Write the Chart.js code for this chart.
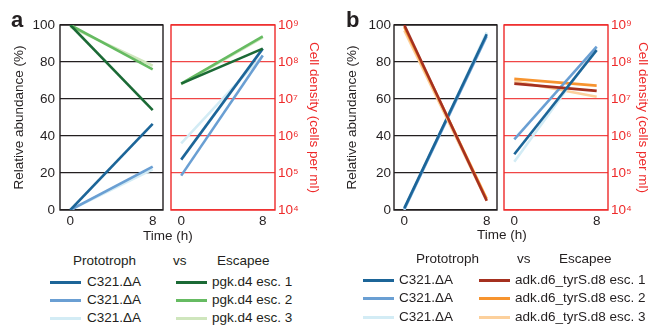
<!DOCTYPE html>
<html><head><meta charset="utf-8">
<script src="https://cdn.jsdelivr.net/npm/chart.js@4.4.0/dist/chart.umd.min.js"></script>
<style>
html,body{margin:0;padding:0;background:#fff;width:649px;height:326px;overflow:hidden;position:relative;font-family:"Liberation Sans",Arial,Helvetica,sans-serif;color:#231f20}
canvas{position:absolute;top:0}
.t{position:absolute;font-size:13.5px;line-height:14px;white-space:nowrap}
.ln{position:absolute;height:3px}
.pl{position:absolute;font-weight:bold;font-size:22px;line-height:22px}
</style></head><body>
<canvas id="aL" width="164" height="240" style="left:0px"></canvas>
<canvas id="aR" width="155" height="240" style="left:165px"></canvas>
<canvas id="bL" width="166" height="240" style="left:332px"></canvas>
<canvas id="bR" width="151" height="240" style="left:498px"></canvas>
<div class="pl" style="left:11px;top:9px">a</div>
<div class="pl" style="left:346px;top:9px">b</div>
<div class="t" style="left:143px;top:229px">Time (h)</div>
<div class="t" style="left:477px;top:228px">Time (h)</div>
<div id="legA"></div>
<div id="legB"></div>
<script>
// ---- data ----
const timePoints = [0, 8];
const abundTicks = [0, 20, 40, 60, 80, 100];
const densityTicks = [1e4, 1e5, 1e6, 1e7, 1e8, 1e9];

const protoNames = ['C321.\u0394A', 'C321.\u0394A', 'C321.\u0394A'];
const aEscNames = ['pgk.d4 esc. 1', 'pgk.d4 esc. 2', 'pgk.d4 esc. 3'];
const bEscNames = ['adk.d6_tyrS.d8 esc. 1', 'adk.d6_tyrS.d8 esc. 2', 'adk.d6_tyrS.d8 esc. 3'];

// panel a
const aProto1Abund = [0, 46.5];
const aProto2Abund = [0, 23.5];
const aProto3Abund = [0, 22];
const aEsc1Abund = [100, 54];
const aEsc2Abund = [100, 76];
const aEsc3Abund = [99, 78];
const aProto1Density = [2.3e5, 2.3e8];
const aProto2Density = [8.5e4, 1.5e8];
const aProto3Density = [6.3e5, 1.5e8];
const aEsc1Density = [2.6e7, 2.3e8];
const aEsc2Density = [2.6e7, 4.9e8];
const aEsc3Density = [2.5e7, 4.6e8];

// panel b
const bProto1Abund = [1, 95];
const bProto2Abund = [0.5, 94];
const bProto3Abund = [0, 96];
const bEsc1Abund = [100, 5];
const bEsc2Abund = [99, 6];
const bEsc3Abund = [97, 5];
const bProto1Density = [3.2e5, 2.1e8];
const bProto2Density = [8.1e5, 2.6e8];
const bProto3Density = [2.0e5, 2.4e8];
const bEsc1Density = [2.6e7, 1.66e7];
const bEsc2Density = [3.5e7, 2.3e7];
const bEsc3Density = [3.0e7, 1.15e7];

// ---- styles ----
const protoColors = ['#1c6598', '#6a9fd3', '#d3ecf5'];
const aEscColors = ['#1b6a35', '#66bb62', '#cfe6bd'];
const bEscColors = ['#a5301f', '#f7942f', '#fcd09c'];
const TXT = '#231f20';
const RED = '#ee2a2a';
const REDGRID = '#f04646';
const FF = '"Liberation Sans", Arial, Helvetica, sans-serif';
const FS = 13.5;

const sup = {'0':'\u2070','1':'\u00b9','2':'\u00b2','3':'\u00b3','4':'\u2074','5':'\u2075','6':'\u2076','7':'\u2077','8':'\u2078','9':'\u2079'};

function pts(vals){ return timePoints.map((t,i)=>({x:t,y:vals[i]})); }
function ds(vals, color, order){ return {data:pts(vals), borderColor:color, backgroundColor:color, borderWidth:2.6, pointRadius:0, order:order, fill:false, tension:0}; }

const framePlugin = {
  id:'frame',
  beforeDatasetsDraw(chart, args, opts){
    const a = chart.chartArea, ctx = chart.ctx;
    ctx.save();
    ctx.strokeStyle = opts.color; ctx.lineWidth = 1.4;
    ctx.strokeRect(a.left, a.top, a.right - a.left, a.bottom - a.top);
    ctx.restore();
  }
};

function makeChart(id, datasets, kind, padLeft, padRight, axisW, xMax, titlePad, tickPad){
  const isLog = kind === 'log';
  const yScale = isLog ? {
    type:'logarithmic', position:'right', min:1e4, max:1e9,
    afterBuildTicks:s=>{ s.ticks = densityTicks.map(v=>({value:v})); },
    afterFit:s=>{ s.width = axisW; },
    grid:{color:REDGRID, lineWidth:1.3, drawTicks:false},
    border:{display:false},
    ticks:{padding:tickPad, color:RED, font:{family:FF,size:FS}, autoSkip:false,
      callback:(v)=>'10'+String(Math.round(Math.log10(v))).split('').map(c=>sup[c]).join('')},
    title:{display:true, text:'Cell density (cells per ml)', color:RED, padding:{top:titlePad,bottom:0}, font:{family:FF,size:FS,lineHeight:1}}
  } : {
    type:'linear', position:'left', min:0, max:100,
    afterBuildTicks:s=>{ s.ticks = abundTicks.map(v=>({value:v})); },
    afterFit:s=>{ s.width = axisW; },
    grid:{color:'#231f20', lineWidth:1.2, drawTicks:false},
    border:{display:false},
    ticks:{padding:tickPad, color:TXT, font:{family:FF,size:FS}, autoSkip:false},
    title:{display:true, text:'Relative abundance (%)', color:TXT, padding:{top:titlePad,bottom:0}, font:{family:FF,size:FS,lineHeight:1}}
  };
  return new Chart(document.getElementById(id), {
    type:'line',
    data:{datasets:datasets},
    plugins:[framePlugin],
    options:{
      responsive:false, animation:false, devicePixelRatio:1,
      layout:{padding:{top:25, left:padLeft, right:padRight, bottom:0}},
      plugins:{legend:{display:false}, tooltip:{enabled:false}, frame:{color: isLog ? RED : '#231f20'}},
      scales:{
        x:{type:'linear', min:-1, max:xMax,
          afterBuildTicks:s=>{ s.ticks = timePoints.map(v=>({value:v})); },
          afterFit:s=>{ s.height = 30; },
          grid:{display:false, drawTicks:false}, border:{display:false},
          ticks:{padding:3, color:TXT, font:{family:FF,size:FS}, maxRotation:0, autoSkip:false}},
        y:yScale
      }
    }
  });
}

// lower "order" = drawn on top
makeChart('aL', [
  ds(aProto1Abund, protoColors[0], 1), ds(aProto2Abund, protoColors[1], 2), ds(aProto3Abund, protoColors[2], 3),
  ds(aEsc1Abund, aEscColors[0], 1), ds(aEsc2Abund, aEscColors[1], 2), ds(aEsc3Abund, aEscColors[2], 3)
], 'lin', 0, 1, 60, 9, 13, 5);

makeChart('aR', [
  ds(aProto2Density, protoColors[1], 1), ds(aProto1Density, protoColors[0], 2), ds(aProto3Density, protoColors[2], 3),
  ds(aEsc1Density, aEscColors[0], 1), ds(aEsc2Density, aEscColors[1], 2), ds(aEsc3Density, aEscColors[2], 4)
], 'log', 6, 0, 45, 9.2, 0, 3);

makeChart('bL', [
  ds(bProto1Abund, protoColors[0], 2), ds(bProto2Abund, protoColors[1], 3), ds(bProto3Abund, protoColors[2], 4),
  ds(bEsc1Abund, bEscColors[0], 0), ds(bEsc2Abund, bEscColors[1], 1), ds(bEsc3Abund, bEscColors[2], 1.5)
], 'lin', 0, 1, 62, 9, 14, 3);

makeChart('bR', [
  ds(bProto1Density, protoColors[0], 1), ds(bProto2Density, protoColors[1], 2), ds(bProto3Density, protoColors[2], 3),
  ds(bEsc1Density, bEscColors[0], 1), ds(bEsc2Density, bEscColors[1], 2), ds(bEsc3Density, bEscColors[2], 3)
], 'log', 6, 0, 41, 9.1, 0, 3);

// ---- legends (HTML text) ----
function legend(el, headY, rowYs, lineL, textL, lineR, textR, headX, escNames, escColors){
  let h = '';
  h += `<div class="t" style="left:${headX[0]}px;top:${headY-7}px">Prototroph</div>`;
  h += `<div class="t" style="left:${headX[1]}px;top:${headY-7}px">vs</div>`;
  h += `<div class="t" style="left:${headX[2]}px;top:${headY-7}px">Escapee</div>`;
  rowYs.forEach((y,i)=>{
    h += `<div class="ln" style="left:${lineL}px;top:${y-1}px;width:31px;background:${protoColors[i]}"></div>`;
    h += `<div class="t" style="left:${textL}px;top:${y-7}px">${protoNames[i]}</div>`;
    h += `<div class="ln" style="left:${lineR}px;top:${y-1}px;width:31px;background:${escColors[i]}"></div>`;
    h += `<div class="t" style="left:${textR}px;top:${y-7}px">${escNames[i]}</div>`;
  });
  document.getElementById(el).innerHTML = h;
}
legend('legA', 261, [282, 300, 318], 50, 87, 176, 212, [73, 173, 217], aEscNames, aEscColors);
legend('legB', 259, [280, 298, 317], 363, 399, 479, 515, [416, 517, 559], bEscNames, bEscColors);
</script>
</body></html>
